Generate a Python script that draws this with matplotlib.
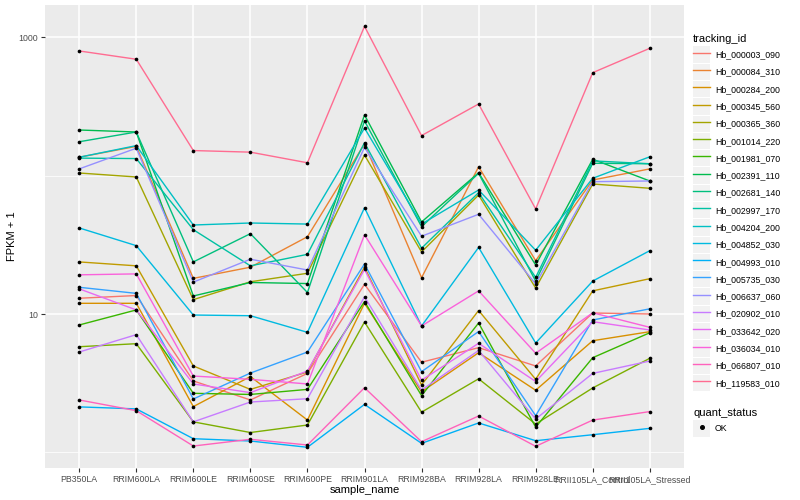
import numpy as np
import matplotlib
matplotlib.use("Agg")
import matplotlib.pyplot as plt
from matplotlib.lines import Line2D
from matplotlib.patches import Rectangle
from matplotlib.legend_handler import HandlerLine2D
from matplotlib.ticker import FixedLocator, NullFormatter

plt.rcParams["font.family"] = ["Liberation Sans", "DejaVu Sans"]

samples = ["PB350LA", "RRIM600LA", "RRIM600LE", "RRIM600SE", "RRIM600PE",
           "RRIM901LA", "RRIM928BA", "RRIM928LA", "RRIM928LE",
           "RRII105LA_Control", "RRII105LA_Stressed"]

tracking_ids = ["Hb_000003_090", "Hb_000084_310", "Hb_000284_200", "Hb_000345_560",
                "Hb_000365_360", "Hb_001014_220", "Hb_001981_070", "Hb_002391_110",
                "Hb_002681_140", "Hb_002997_170", "Hb_004204_200", "Hb_004852_030",
                "Hb_004993_010", "Hb_005735_030", "Hb_006637_060", "Hb_020902_010",
                "Hb_033642_020", "Hb_036034_010", "Hb_066807_010", "Hb_119583_010"]

# FPKM + 1, one list per tracking_id, in sample order
hb_000003_090 = [13.0, 13.6, 3.28, 2.39, 3.72, 16.4, 4.48, 5.71, 4.21, 10.17, 10.0]
hb_000084_310 = [136, 163, 18.1, 21.8, 36.2, 170, 18.3, 116, 24.3, 93.1, 112]
hb_000284_200 = [11.95, 11.95, 2.14, 3.53, 1.71, 11.95, 2.74, 5.25, 2.81, 6.41, 7.45]
hb_000345_560 = [23.8, 22.3, 4.21, 2.85, 3.81, 21.8, 3.07, 10.6, 3.37, 14.7, 18.0]
hb_000365_360 = [104.6, 97.9, 12.7, 17.1, 19.7, 141, 28.1, 72.5, 15.4, 87.1, 81.1]
hb_001014_220 = [5.80, 6.10, 1.66, 1.39, 1.575, 8.75, 1.95, 3.40, 1.60, 2.92, 4.78]
hb_001981_070 = [8.33, 10.7, 2.67, 2.62, 2.85, 12.3, 2.57, 8.61, 1.52, 4.83, 7.32]
hb_002391_110 = [214, 207, 13.5, 16.9, 16.6, 275, 46.3, 105, 22.6, 131.5, 91.6]
hb_002681_140 = [176, 207, 23.8, 38.1, 14.3, 249, 42.8, 104, 17.3, 123, 122]
hb_002997_170 = [134, 133, 40.7, 22.3, 27.0, 173, 29.9, 75.4, 18.4, 128, 122]
hb_004204_200 = [136, 165, 44.0, 45.5, 44.7, 221, 44.7, 78.8, 28.9, 95.8, 137]
hb_004852_030 = [41.9, 31.2, 9.83, 9.72, 7.37, 58.7, 8.19, 30.3, 6.17, 17.3, 28.7]
hb_004993_010 = [2.13, 2.06, 1.254, 1.207, 1.087, 2.22, 1.161, 1.63, 1.213, 1.34, 1.49]
hb_005735_030 = [15.6, 14.1, 2.43, 3.74, 5.31, 23.0, 3.83, 7.47, 1.84, 9.05, 10.9]
hb_006637_060 = [112, 158, 17.0, 24.9, 20.8, 160, 36.5, 52.6, 16.5, 90.5, 91.6]
hb_020902_010 = [5.31, 7.09, 1.66, 2.31, 2.44, 13.3, 2.82, 5.45, 1.74, 3.72, 4.57]
hb_033642_020 = [15.2, 10.7, 3.12, 2.70, 3.87, 21.0, 3.32, 6.14, 3.25, 8.80, 7.66]
hb_036034_010 = [19.2, 19.5, 3.56, 3.37, 3.12, 37.4, 8.19, 14.7, 5.20, 10.2, 8.01]
hb_066807_010 = [2.39, 2.00, 1.110, 1.242, 1.129, 2.93, 1.193, 1.83, 1.105, 1.71, 1.97]
hb_119583_010 = [798, 695, 152, 148, 124, 1202, 195, 330, 57.5, 556, 834]

series = [hb_000003_090, hb_000084_310, hb_000284_200, hb_000345_560, hb_000365_360,
          hb_001014_220, hb_001981_070, hb_002391_110, hb_002681_140, hb_002997_170,
          hb_004204_200, hb_004852_030, hb_004993_010, hb_005735_030, hb_006637_060,
          hb_020902_010, hb_033642_020, hb_036034_010, hb_066807_010, hb_119583_010]

# ggplot default hue palette for 20 levels
palette = ["#F8766D", "#EA8331", "#D89000", "#C09B00", "#A3A500", "#7CAE00", "#39B600",
           "#00BB4E", "#00BF7D", "#00C1A3", "#00BFC4", "#00BAE0", "#00B0F6", "#35A2FF",
           "#9590FF", "#C77CFF", "#E76BF3", "#FA62DB", "#FF62BC", "#FF6C91"]

LEG_FS = 6.3
LEG_SPACING = 0.45


class KeyHandler(HandlerLine2D):
    # legend key with the grey ggplot box behind it
    def create_artists(self, legend, orig_handle, xdescent, ydescent, width, height,
                       fontsize, trans):
        arts = super().create_artists(legend, orig_handle, xdescent, ydescent,
                                      width, height, fontsize, trans)
        ext = LEG_SPACING * fontsize / 2 - 0.35
        bg = Rectangle((-xdescent, -ydescent - ext), width, height + 2 * ext,
                       facecolor="#F2F2F2", edgecolor="none", transform=trans)
        return [bg] + list(arts)


fig = plt.figure(figsize=(8, 5), dpi=100)
ax = fig.add_axes([45 / 800, 32 / 500, 639 / 800, 463 / 500])
ax.set_facecolor("#EBEBEB")

x = np.arange(1, len(samples) + 1)
for tid, vals, col in zip(tracking_ids, series, palette):
    ax.plot(x, vals, color=col, lw=1.0, zorder=2)
for vals in series:
    ax.scatter(x, vals, s=7, color="black", zorder=3, linewidths=0)

ax.set_yscale("log")
ax.set_ylim(0.77, 1715)
ax.set_xlim(0.4, 11.6)
ax.set_xticks(x)
ax.set_xticklabels(samples)
ax.yaxis.set_major_locator(FixedLocator([10, 1000]))
ax.set_yticklabels(["10", "1000"])
ax.yaxis.set_minor_locator(FixedLocator([1, 100]))
ax.yaxis.set_minor_formatter(NullFormatter())

ax.grid(which="major", color="white", lw=1.1)
ax.grid(which="minor", axis="y", color="white", lw=0.55)
ax.set_axisbelow(True)
for s in ax.spines.values():
    s.set_visible(False)
ax.tick_params(which="major", length=3, width=0.8, color="#333333",
               labelsize=6.3, labelcolor="#4D4D4D", pad=2)
ax.tick_params(which="minor", length=0)

ax.set_xlabel("sample_name", fontsize=8, labelpad=1)
ax.set_ylabel("FPKM + 1", fontsize=8, labelpad=1)

handles = [Line2D([], [], color=c, lw=1.0) for c in palette]
leg1 = ax.legend(handles, tracking_ids, loc="upper left",
                 bbox_to_anchor=(693 / 800, 1 - 34 / 500), bbox_transform=fig.transFigure,
                 frameon=False, fontsize=LEG_FS, title="tracking_id", title_fontsize=8,
                 alignment="left", handlelength=1.97, handleheight=1.97,
                 handletextpad=0.55, labelspacing=LEG_SPACING, borderpad=0,
                 borderaxespad=0, handler_map={Line2D: KeyHandler()})
ax.add_artist(leg1)

ok_handle = Line2D([], [], ls="none", marker="o", ms=2.6, color="black")
leg2 = ax.legend([ok_handle], ["OK"], loc="upper left",
                 bbox_to_anchor=(693 / 800, 1 - 408 / 500), bbox_transform=fig.transFigure,
                 frameon=False, fontsize=LEG_FS, title="quant_status", title_fontsize=8,
                 alignment="left", handlelength=1.97, handleheight=1.97,
                 handletextpad=0.55, labelspacing=LEG_SPACING, borderpad=0,
                 borderaxespad=0, handler_map={Line2D: KeyHandler(numpoints=1)})

fig.savefig("out.png", dpi=100)
